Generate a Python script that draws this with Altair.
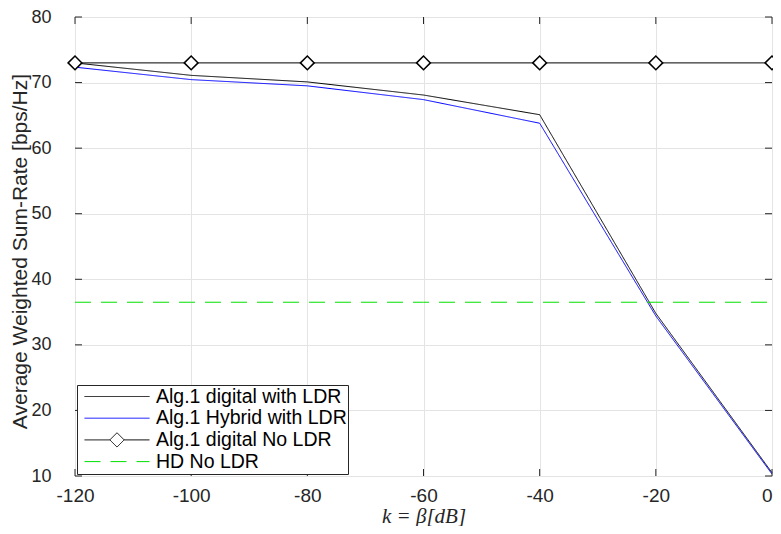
import altair as alt
import pandas as pd

# ---- data ----
K = [-120, -100, -80, -60, -40, -20, 0]
DIGITAL_LDR = [73.0, 71.1, 70.1, 68.1, 65.1, 34.8, 10.5]
HYBRID_LDR = [72.35, 70.45, 69.5, 67.4, 63.8, 34.4, 10.3]
DIGITAL_NO_LDR = [73.0, 73.0, 73.0, 73.0, 73.0, 73.0, 73.0]
HD_NO_LDR = [36.5, 36.5, 36.5, 36.5, 36.5, 36.5, 36.5]

SERIES = ["Alg.1 digital with LDR", "Alg.1 Hybrid with LDR",
          "Alg.1 digital No LDR", "HD No LDR"]
COLORS = ["#000000", "#0000ff", "#000000", "#00e000"]
DASHES = [[1, 0], [1, 0], [1, 0], [16, 10]]
X_TICKS = [-120, -100, -80, -60, -40, -20, 0]
Y_TICKS = [10, 20, 30, 40, 50, 60, 70, 80]

# legend symbols: plain line, and line with a diamond in the middle
LINE_PATH = "M-1,0L1,0"
DIAMOND_PATH = "M-1,0L-0.22,0M0.22,0L1,0M-0.22,0L0,-0.22L0.22,0L0,0.22Z"
SHAPES = [LINE_PATH, LINE_PATH, DIAMOND_PATH, LINE_PATH]

rows = []
for name, vals in zip(SERIES, [DIGITAL_LDR, HYBRID_LDR, DIGITAL_NO_LDR, HD_NO_LDR]):
    for k, v in zip(K, vals):
        rows.append({"series": name, "k": k, "rate": v})
df = pd.DataFrame(rows)
xt = pd.DataFrame({"k": X_TICKS})
yt = pd.DataFrame({"rate": Y_TICKS})

W, H = 697, 459
TXT = "#262626"
FONT = "Liberation Sans"

xscale = alt.Scale(domain=[-120, 0], nice=False, zero=False)
yscale = alt.Scale(domain=[10, 80], nice=False, zero=False)

xaxis = alt.Axis(values=X_TICKS, title="k = β[dB]", grid=True, ticks=False,
                 domain=False, labelFont=FONT, labelFontSize=19, labelFlush=False,
                 labelExpr="toString(datum.value)",
                 labelAlign={"condition": {"test": "datum.value == 0", "value": "right"},
                             "value": "center"},
                 labelColor=TXT, labelPadding=10, gridColor="#e4e4e4",
                 titleFont="Liberation Serif", titleFontStyle="italic",
                 titleFontWeight="normal", titleFontSize=21, titleColor=TXT,
                 titlePadding=0)
yaxis = alt.Axis(values=Y_TICKS, title="Average Weighted Sum-Rate [bps/Hz]",
                 grid=True, ticks=False, domain=False, labelFont=FONT, labelFlush=False,
                 labelFontSize=18, labelColor=TXT, labelPadding=24,
                 gridColor="#e4e4e4", titleFont=FONT, titleFontSize=21,
                 titleFontWeight="normal", titleColor=TXT, titlePadding=0,
                 titleY=234)

X = alt.X("k:Q", scale=xscale, axis=xaxis, title="k = β[dB]")
Y = alt.Y("rate:Q", scale=yscale, axis=yaxis, title="Average Weighted Sum-Rate [bps/Hz]")

legend = alt.Legend(
    title=None, orient="bottom-left", offset=2,
    labelFont=FONT, labelFontSize=19.5, labelColor="#000000", labelLimit=400,
    symbolSize=4225, symbolStrokeWidth=1, clipHeight=21, rowPadding=0.7,
    padding=1, symbolOffset=6, labelOffset=6,
    strokeColor=TXT, fillColor="#ffffff", symbolFillColor="#ffffff",
)

stroke_enc = alt.Stroke("series:N", scale=alt.Scale(domain=SERIES, range=COLORS), legend=legend)

base = alt.Chart(df)

lines = base.mark_line(strokeWidth=1).encode(
    x=X, y=Y,
    stroke=stroke_enc,
    strokeDash=alt.StrokeDash("series:N", scale=alt.Scale(domain=SERIES, range=DASHES),
                              legend=legend),
    order=alt.Order("k:Q"),
)

diamonds = base.transform_filter(alt.datum.series == "Alg.1 digital No LDR").mark_point(
    shape="diamond", filled=True, fill="#ffffff", stroke="#000000", strokeWidth=1.5,
    size=190, opacity=1,
).encode(x=X, y=Y)

# legend-only layer (no rows survive the filter)
legend_layer = base.transform_filter(alt.datum.rate > 1000).mark_point(
    filled=True, fill="#ffffff", strokeWidth=1, opacity=1,
).encode(
    x=X, y=Y,
    stroke=stroke_enc,
    shape=alt.Shape("series:N", scale=alt.Scale(domain=SERIES, range=SHAPES), legend=legend),
)

TL = 7
xt_bottom = alt.Chart(xt).mark_rule(color=TXT, strokeWidth=1).encode(
    x=X, y=alt.value(H), y2=alt.value(H - TL))
xt_top = alt.Chart(xt).mark_rule(color=TXT, strokeWidth=1).encode(
    x=X, y=alt.value(0), y2=alt.value(TL))
yt_left = alt.Chart(yt).mark_rule(color=TXT, strokeWidth=1).encode(
    y=Y, x=alt.value(0), x2=alt.value(TL))
yt_right = alt.Chart(yt).mark_rule(color=TXT, strokeWidth=1).encode(
    y=Y, x=alt.value(W), x2=alt.value(W - TL))

chart = alt.layer(
    lines, diamonds, legend_layer, xt_bottom, xt_top, yt_left, yt_right
).properties(
    width=W, height=H,
    autosize=alt.AutoSizeParams(type="none"),
    padding={"left": 67, "top": 9, "right": 1, "bottom": 50},
).configure_view(
    stroke=TXT, strokeWidth=1,
).configure(background="#ffffff")

chart.save("out.html", embed_options={"renderer": "svg", "actions": False})
